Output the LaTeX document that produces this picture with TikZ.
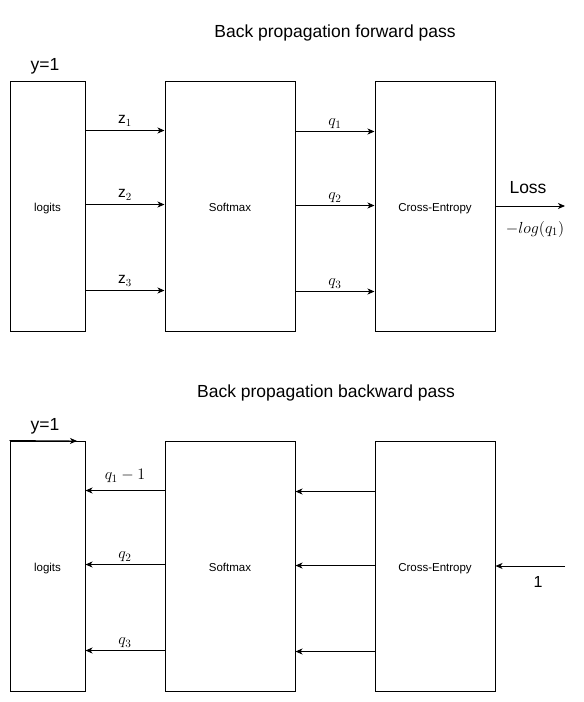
\documentclass[tikz,border=0pt]{standalone}
\usepackage{fix-cm}
\usepackage{fontspec}
\setmainfont{Liberation Sans}
\usetikzlibrary{arrows.meta}
\tikzset{
  box/.style={draw, line width=1pt, inner sep=0pt, text height=10pt, text depth=0pt, font=\fontsize{11.5}{13}\selectfont},
  arr/.style={line width=0.9pt, -{Stealth[length=7pt,width=6pt,inset=2pt]}},
  lbl/.style={inner sep=0pt, font=\fontsize{15.5}{17}\selectfont},
  mlbl/.style={inner sep=0pt, font=\fontsize{16}{18}\selectfont},
  big/.style={inner sep=0pt, font=\fontsize{17.5}{20}\selectfont},
}
\begin{document}
\begin{tikzpicture}[x=1pt,y=-1pt]
\useasboundingbox (0,0) rectangle (584,702);
% titles
\node[big] (t1) at (335,33) {Back propagation forward pass};
\node[big] (t2) at (326,393) {Back propagation backward pass};
% forward
\node[big] (y1) at (45,66) {y=1};
\node[box, minimum width=75pt, minimum height=250pt] (l1) at (47.5,206) {logits};
\node[box, minimum width=130pt, minimum height=250pt] (s1) at (230,206) {Softmax};
\node[box, minimum width=120pt, minimum height=250pt] (c1) at (435,206) {Cross-Entropy};
\draw[arr] ([yshift=-50pt]l1.north east) -- ([yshift=-50pt]s1.north west) node[lbl, midway, above=4pt] (z1) {z$_1$};
\draw[arr] ([yshift=-124pt]l1.north east) -- ([yshift=-124pt]s1.north west) node[lbl, midway, above=4pt] (z2) {z$_2$};
\draw[arr] ([yshift=-210pt]l1.north east) -- ([yshift=-210pt]s1.north west) node[lbl, midway, above=4pt] (z3) {z$_3$};
\draw[arr] ([yshift=-51pt]s1.north east) -- ([yshift=-51pt]c1.north west) node[mlbl, midway, above=2pt] (q1) {$q_1$};
\draw[arr] ([yshift=-125pt]s1.north east) -- ([yshift=-125pt]c1.north west) node[mlbl, midway, above=2pt] (q2) {$q_2$};
\draw[arr] ([yshift=-211pt]s1.north east) -- ([yshift=-211pt]c1.north west) node[mlbl, midway, above=2pt] (q3) {$q_3$};
\coordinate (lossend) at (565,206);
\draw[arr] (c1.east) -- (lossend);
\node[big] (loss) at (528,188) {Loss};
\node[mlbl] (nl) at (535,229) {$-log(q_1)$};
% backward
\node[big] (y2) at (45,426) {y=1};
\node[box, minimum width=75pt, minimum height=250pt] (l2) at (47.5,566) {logits};
\node[box, minimum width=130pt, minimum height=250pt] (s2) at (230,566) {Softmax};
\node[box, minimum width=120pt, minimum height=250pt] (c2) at (435,566) {Cross-Entropy};
\coordinate (yend) at (77,441);
\draw[arr] (l2.north west) -- (yend);
\draw[arr] ([yshift=-50pt]s2.north west) -- ([yshift=-50pt]l2.north east) node[mlbl, midway, above=7pt] (b1) {$q_1-1$};
\draw[arr] ([yshift=-124pt]s2.north west) -- ([yshift=-124pt]l2.north east) node[mlbl, midway, above=2pt] (b2) {$q_2$};
\draw[arr] ([yshift=-210pt]s2.north west) -- ([yshift=-210pt]l2.north east) node[mlbl, midway, above=2pt] (b3) {$q_3$};
\draw[arr] ([yshift=-51pt]c2.north west) -- ([yshift=-51pt]s2.north east);
\draw[arr] ([yshift=-125pt]c2.north west) -- ([yshift=-125pt]s2.north east);
\draw[arr] ([yshift=-211pt]c2.north west) -- ([yshift=-211pt]s2.north east);
\coordinate (onestart) at (565,566);
\draw[arr] (onestart) -- (c2.east);
\node[big, font=\fontsize{16}{18}\selectfont] (one) at (538,582) {1};
\end{tikzpicture}
\end{document}
